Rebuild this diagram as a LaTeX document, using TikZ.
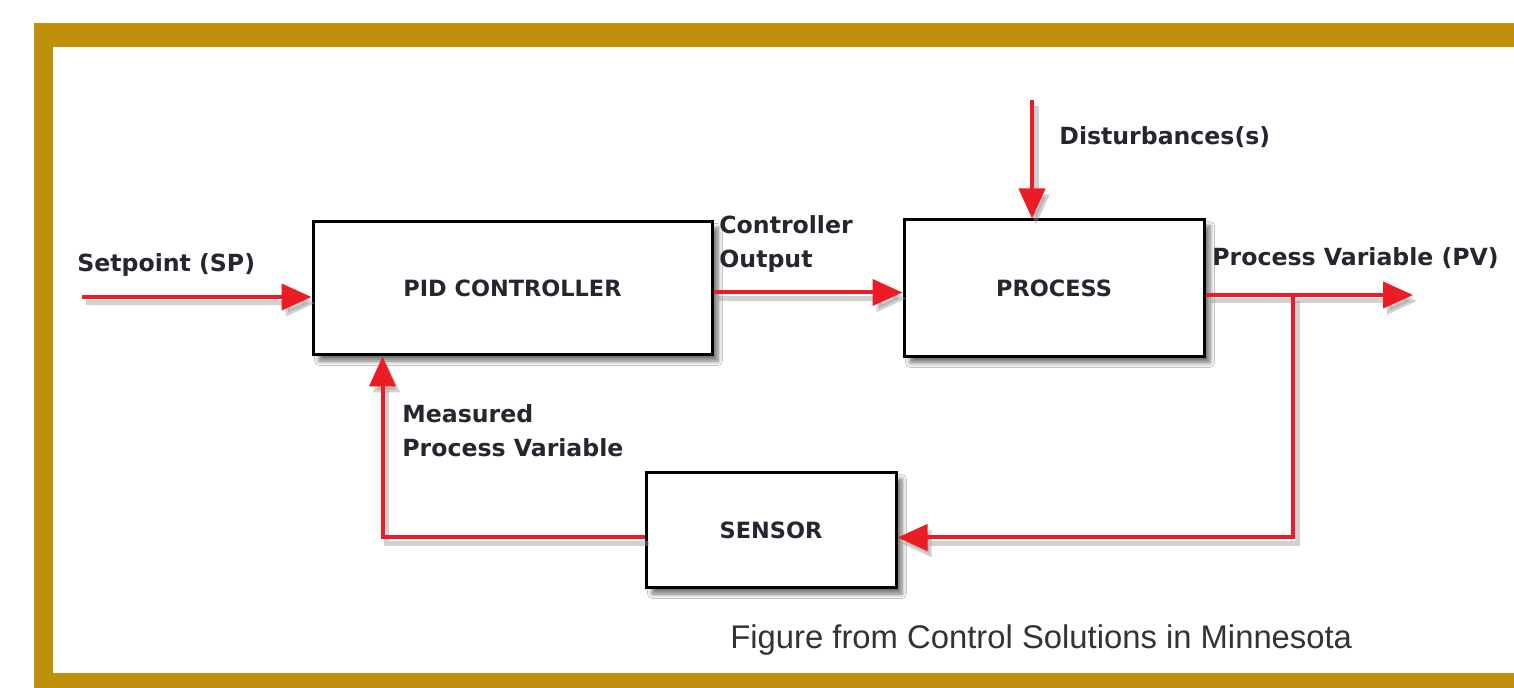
\documentclass[tikz,border=0pt]{standalone}
\usepackage{fontspec}
\setmainfont{DejaVu Sans}
\newfontfamily\captionfont{Liberation Sans}
\usetikzlibrary{arrows.meta,positioning,shadows.blur}
\definecolor{FrameGold}{HTML}{C0900A}
\definecolor{LoopRed}{HTML}{EC1C24}
\definecolor{LabelInk}{HTML}{262630}
\definecolor{CaptionGray}{HTML}{333333}

\begin{document}
\begin{tikzpicture}[
  x=0.5pt, y=-0.5pt,
  block/.style={draw=black, line width=1.5pt, fill=white, inner sep=0pt, font=\bfseries\fontsize{11.2}{12}\selectfont, text=LabelInk, blur shadow={shadow xshift=3pt, shadow yshift=-3pt, shadow blur steps=6, shadow opacity=55}},
  lbl/.style={font=\bfseries\fontsize{11.8}{17}\selectfont, text=LabelInk, align=left, inner sep=0pt},
  shade line/.style={preaction={draw=black!40, opacity=.45, line width=2.5pt, transform canvas={shift={(2pt,-3pt)}}}},
  arrow/.style={-{Triangle[length=15pt,width=13pt]}, line width=2pt, draw=LoopRed, shade line}
]
  \useasboundingbox (0,0) rectangle (1514,688);
  % frame
  \fill[FrameGold] (34,23) rectangle (1514,688);
  \fill[white] (53,47) rectangle (1514,673);

  % blocks
  \node[block, minimum width=199.5pt, minimum height=66.5pt] (pid) at (512.5,288.5) {PID CONTROLLER};
  \node[block, minimum width=150pt, minimum height=68.5pt, right=94.5pt of pid] (process) {PROCESS};
  \node[block, minimum width=125pt, minimum height=57.5pt, below=57.5pt of pid, xshift=129.25pt] (sensor) {SENSOR};

  % free ends
  \coordinate (sp) at (82,297);
  \coordinate (dist) at (1032,100);
  \coordinate (pvend) at (1413,295);
  \coordinate (tap) at (1293,295);

  % signals
  \draw[arrow] (sp) -- (sp -| pid.west);
  \draw[arrow] ([yshift=-2pt]pid.east) -- ([yshift=-2pt]process.west);
  \draw[arrow] (dist) -- (dist |- process.north);
  \draw[arrow] (process.east |- pvend) -- (pvend);
  \draw[arrow] (tap) |- ([yshift=-3.5pt]sensor.east);
  \draw[arrow] ([yshift=-3.5pt]sensor.west) -| ([xshift=-65pt]pid.south);

  % labels
  \node[lbl, anchor=west] (splbl) at (77,265) {Setpoint (SP)};
  \node[lbl, anchor=north west] (colbl) at (719,215) {Controller\\Output};
  \node[lbl, anchor=west] (distlbl) at (1059,137) {Disturbances(s)};
  \node[lbl, anchor=west] (pvlbl) at (1212,258) {Process Variable (PV)};
  \node[lbl, anchor=north west] (mpvlbl) at (402,404) {Measured\\Process Variable};
  \node[anchor=west, inner sep=0pt, text=CaptionGray, font=\captionfont\fontsize{16.4}{18}\selectfont] (caption) at (730,640) {Figure from Control Solutions in Minnesota};
\end{tikzpicture}
\end{document}
